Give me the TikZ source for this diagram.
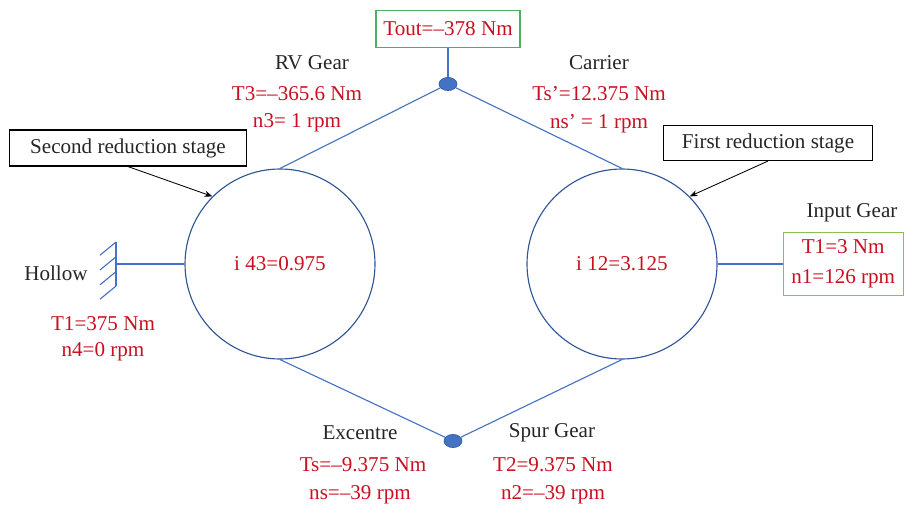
\documentclass[tikz,border=0pt]{standalone}
\usepackage{fontspec}
\setmainfont{Liberation Serif}
\usetikzlibrary{shapes.geometric,arrows.meta}
\definecolor{gearblue}{RGB}{68,114,196}
\definecolor{ringblue}{RGB}{47,85,151}
\definecolor{valred}{RGB}{200,16,32}
\definecolor{boxgreen}{RGB}{76,176,100}
\definecolor{inputgreen}{RGB}{140,190,80}
\definecolor{labelgray}{RGB}{38,38,38}
\begin{document}
\begin{tikzpicture}[>=Stealth,font=\fontsize{15}{17}\selectfont,
    stage/.style={circle,draw=ringblue,thick,minimum size=4.75cm,inner sep=0pt,text=valred},
    joint/.style={ellipse,draw=ringblue,fill=gearblue,minimum width=0.45cm,minimum height=0.33cm,inner sep=0pt},
    link/.style={gearblue,thick},
    val/.style={text=valred},
    member/.style={text=labelgray},
    tag/.style={draw=black,thick,text=labelgray,inner sep=0pt}]
    \useasboundingbox (0,0) rectangle (22.625,12.75);
    % the two reduction stages
    \node[stage] (c43) at (7,6.15) {i 43=0.975};
    \node[stage] (c12) at (15.55,6.15) {i 12=3.125};
    \node[joint] (topdot) at (11.2,10.65) {};
    \node[joint] (botdot) at (11.325,1.725) {};
    \node[draw=boxgreen,thick,val,minimum width=3.6cm,minimum height=0.925cm,inner sep=0pt] (tout) at (11.2,12.025) {Tout=–378 Nm};
    \draw[link] (tout.south)--(topdot);
    \draw[link] (topdot)--(c43.north);
    \draw[link] (topdot)--(c12.north);
    \draw[link] (botdot)--(c43.south);
    \draw[link] (botdot)--(c12.south);
    % fixed hollow shaft
    \coordinate (wall) at (2.9,6.15);
    \draw[link] (2.9,6.7)--(2.9,5.6);
    \foreach \y in {6.7,6.33,5.96,5.6}
        \draw[link] (2.9,\y)--++(-0.4,-0.33);
    \draw[link] (wall)--(c43.west);
    \node[member] (hollow) at (1.4,5.925) {Hollow};
    \node[val] (t1h) at (2.575,4.65) {T1=375 Nm};
    \node[val] (n4) at (2.575,3.95) {n4=0 rpm};
    % input gear
    \node[draw=inputgreen,thick,val,align=center,minimum width=3.0cm,minimum height=1.575cm,inner sep=0pt] (input) at (21.08,6.15) {T1=3 Nm\\[4pt]n1=126 rpm};
    \node[member] (inputlbl) at (21.3,7.425) {Input Gear};
    \draw[link] (c12.east)--(input.west);
    % stage tags
    \node[tag,minimum width=5.925cm,minimum height=0.9cm] (second) at (3.2,9.05) {Second reduction stage};
    \node[tag,minimum width=5.225cm,minimum height=0.875cm] (first) at (19.2,9.175) {First reduction stage};
    \draw[->,semithick] (second.south)--(c43.135);
    \draw[->,semithick] (first.south)--(c12.45);
    % members and values
    \node[member] (rv) at (7.8,11.175) {RV Gear};
    \node[val] (t3) at (7.425,10.4) {T3=–365.6 Nm};
    \node[val] (n3) at (7.425,9.675) {n3= 1 rpm};
    \node[member] (carrier) at (14.975,11.175) {Carrier};
    \node[val] (tsp) at (14.975,10.4) {Ts’=12.375 Nm};
    \node[val] (nsp) at (14.975,9.65) {ns’ = 1 rpm};
    \node[member] (exc) at (9,1.925) {Excentre};
    \node[val] (ts) at (9.075,1.125) {Ts=–9.375 Nm};
    \node[val] (ns) at (9,0.375) {ns=–39 rpm};
    \node[member] (spur) at (13.8,1.925) {Spur Gear};
    \node[val] (t2) at (13.825,1.125) {T2=9.375 Nm};
    \node[val] (n2) at (13.825,0.375) {n2=–39 rpm};
\end{tikzpicture}
\end{document}
